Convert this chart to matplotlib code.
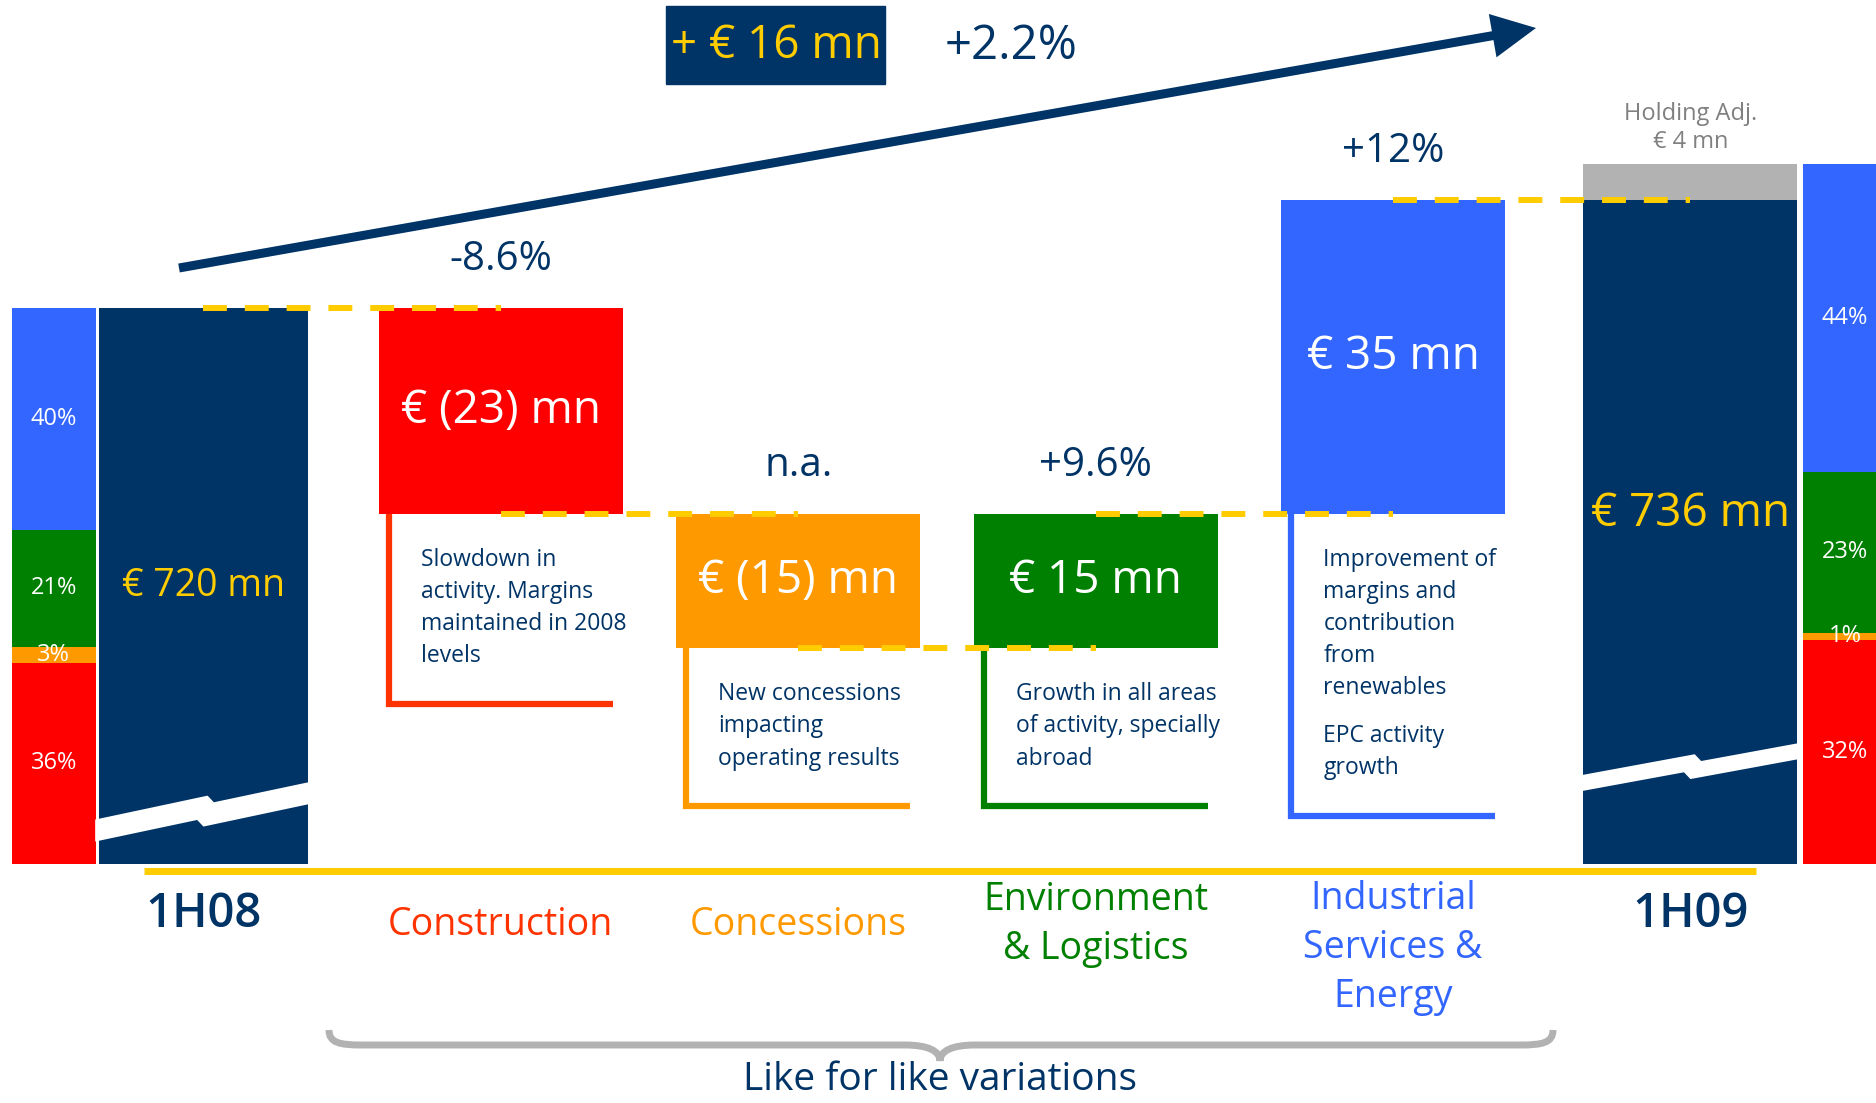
import numpy as np
import matplotlib.pyplot as plt
from matplotlib.patches import Rectangle, Polygon, FancyArrow, PathPatch
from matplotlib.path import Path

plt.rcParams['font.family'] = ['Open Sans', 'DejaVu Sans']

# EBITDA bridge 1H08 -> 1H09 (€ mn)
periods = ['1H08', '1H09']
start_value = 720
end_value = 736
holding_adj = 4
divisions = ['Construction', 'Concessions', 'Environment\n& Logistics',
             'Industrial\nServices &\nEnergy']
changes = [-23, -15, 15, 35]
change_pct = ['-8.6%', 'n.a.', '+9.6%', '+12%']
notes = [
    'Slowdown in\nactivity. Margins\nmaintained in 2008\nlevels',
    'New concessions\nimpacting\noperating results',
    'Growth in all areas\nof activity, specially\nabroad',
    'Improvement of\nmargins and\ncontribution\nfrom\nrenewables\n\nEPC activity\ngrowth',
]
# EBITDA share by division, same order as divisions (%)
mix_1h08 = [36, 3, 21, 40]
mix_1h09 = [32, 1, 23, 44]

NAVY = '#003366'
YELLOW = '#FFCC00'
GREY = '#B2B2B2'
bar_colors = ['#FF0000', '#FF9900', '#008000', '#3366FF']
text_colors = ['#FF3300', '#FF9900', '#008000', '#3366FF']

W, H = 1876, 1103
X0, X1 = -0.684, 5.624
Y0, Y1 = 631.3, 754.3
BASE = 658          # value axis is broken below this level
px_x = (X1 - X0) / W
px_y = (Y1 - Y0) / H

fig = plt.figure(figsize=(W / 100, H / 100), dpi=100)
ax = fig.add_axes([0, 0, 1, 1])
ax.set_xlim(X0, X1)
ax.set_ylim(Y0, Y1)
ax.axis('off')

levels = start_value + np.concatenate([[0], np.cumsum(changes)])
end_x = len(changes) + 1
total_w = [0.70, 0.72]
delta_w = [0.82, 0.82, 0.82, 0.75]

# totals
ax.bar(0, start_value - BASE, bottom=BASE, width=total_w[0], color=NAVY, zorder=2)
ax.bar(end_x, levels[-1] - BASE, bottom=BASE, width=total_w[1], color=NAVY, zorder=2)
ax.bar(end_x, holding_adj, bottom=levels[-1], width=total_w[1], color=GREY, zorder=2)
ax.text(0, (BASE + start_value) / 2, f'€ {start_value} mn', color=YELLOW,
        fontsize=27, ha='center', va='center', zorder=5)
ax.text(end_x, (BASE + end_value) / 2, f'€ {end_value} mn', color=YELLOW,
        fontsize=33, ha='center', va='center', zorder=5)
ax.text(end_x, end_value + 22 * px_y, f'€ {holding_adj} mn', color='#808080',
        fontsize=17, ha='center', va='center')
ax.text(end_x, end_value + 50 * px_y, 'Holding Adj.', color='#808080',
        fontsize=17, ha='center', va='center')


def axis_break(x, w, lift, rise, thick, jog=8):
    left = x - w / 2
    shape = [(-0.02, lift + thick), (0.52, lift + thick + 0.52 * rise),
             (0.55, lift + thick + 0.55 * rise - jog), (1.02, lift + thick + rise - jog),
             (1.02, lift + rise - jog), (0.50, lift + 0.50 * rise - jog),
             (0.47, lift + 0.47 * rise), (-0.02, lift)]
    pts = [(left + u * w, BASE + v * px_y) for u, v in shape]
    ax.add_patch(Polygon(pts, closed=True, facecolor='white', lw=0, zorder=3))


axis_break(0, total_w[0], 22, 46, 22)
axis_break(end_x, total_w[1], 72, 41, 16)


def mix_bar(x, w, top, shares):
    span = top - BASE
    bottom = BASE
    for s, col in zip(shares, bar_colors):
        h = span * s / 100
        ax.bar(x, h, bottom=bottom, width=w, color=col, zorder=2)
        ax.text(x, bottom + h / 2, f'{s}%', color='white', fontsize=17,
                ha='center', va='center', zorder=5)
        bottom += h


mix_bar(-0.503, 0.282, start_value, mix_1h08)
mix_bar(5.52, 0.282, end_value, mix_1h09)

# division variations
LINE = 32
GAP = 16
for i, c in enumerate(changes):
    x = i + 1
    lo = min(levels[i], levels[i + 1])
    ax.bar(x, abs(c), bottom=lo, width=delta_w[i], color=bar_colors[i], zorder=2)
    lab = f'€ ({abs(c)}) mn' if c < 0 else f'€ {c} mn'
    ax.text(x, lo + abs(c) / 2, lab, color='white', fontsize=33,
            ha='center', va='center', zorder=5)
    ax.text(x, lo + abs(c) + 48 * px_y, change_pct[i], color=NAVY, fontsize=29,
            ha='center', va='center')

    # comment box hanging under the bar
    left = x - delta_w[i] / 2
    right = x + delta_w[i] / 2
    vx = left + 10 * px_x
    n = 0
    paras = notes[i].split('\n\n')
    for k, para in enumerate(paras):
        ax.text(vx + 32 * px_x, lo - (34 + n * LINE + k * GAP) * px_y, para,
                ha='left', va='top', fontsize=16.5, color=NAVY, linespacing=1.45)
        n += para.count('\n') + 1
    yb = lo - (36 + n * LINE + (len(paras) - 1) * GAP + 26) * px_y
    ax.plot([vx, vx, right - 10 * px_x], [lo, yb, yb], color=text_colors[i],
            lw=4.5, solid_joinstyle='miter', solid_capstyle='butt', zorder=2)

# connectors between bars
for i, lv in enumerate(levels):
    ax.plot([i, i + 1], [lv, lv], color=YELLOW, lw=4.3, ls=(0, (4, 3)), zorder=4)

# base line and category labels
ax.plot([-0.2, 5.22], [BASE - 7 * px_y] * 2, color=YELLOW, lw=5,
        solid_capstyle='butt', zorder=2)
cat_labels = [periods[0]] + divisions + [periods[1]]
cat_colors = [NAVY] + text_colors + [NAVY]
for x, (lab, col) in enumerate(zip(cat_labels, cat_colors)):
    n = lab.count('\n') + 1
    if lab in periods:
        ax.text(x, BASE - 51 * px_y, lab, color=col, fontsize=34, fontweight='semibold',
                ha='center', va='center')
    else:
        ax.text(x, BASE - (61 + max(0, n - 2) * 23) * px_y, lab, color=col,
                fontsize=27, ha='center', va='center', linespacing=1.38)

# overlay in pixel units: headline, trend arrow, brace
lay = fig.add_axes([0, 0, 1, 1])
lay.set_xlim(0, W)
lay.set_ylim(H, 0)
lay.axis('off')

change = end_value - start_value
lay.add_patch(Rectangle((666, 6), 219, 78, color=NAVY))
lay.text(776, 46, f'+ € {change} mn', color=YELLOW, fontsize=33, ha='center', va='center')
lay.text(1011, 46, f'+{change / start_value * 100:.1f}%', color=NAVY, fontsize=34,
         ha='center', va='center')
lay.add_patch(FancyArrow(179, 268, 1536 - 179, 28 - 268, width=9, head_width=44,
                         head_length=44, length_includes_head=True, color=NAVY, lw=0))

C = Path.CURVE4
verts = [(329, 1030), (329, 1043), (340, 1045), (362, 1045),
         (905, 1045),
         (928, 1045), (940, 1051), (940, 1061),
         (940, 1051), (952, 1045), (975, 1045),
         (1520, 1045),
         (1542, 1045), (1553, 1043), (1553, 1030)]
codes = [Path.MOVETO, C, C, C, Path.LINETO, C, C, C, C, C, C, Path.LINETO, C, C, C]
lay.add_patch(PathPatch(Path(verts, codes), facecolor='none', edgecolor=GREY, lw=5))
lay.text(940, 1080, 'Like for like variations', color=NAVY, fontsize=28,
         ha='center', va='center')

fig.savefig('out.png', dpi=100)
